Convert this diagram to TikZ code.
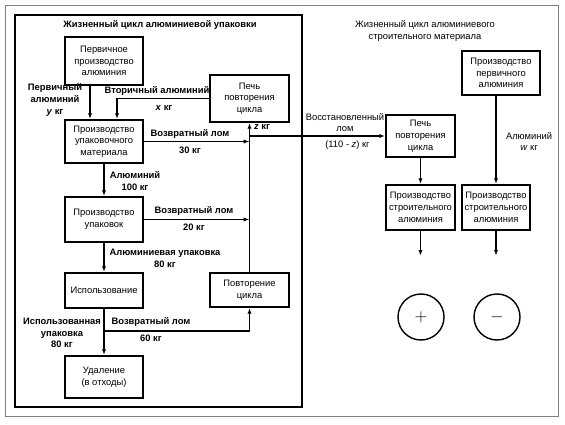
\documentclass[tikz,border=0pt]{standalone}
\usepackage{fontspec}
\setmainfont{Liberation Sans}
\usetikzlibrary{arrows.meta}
\tikzset{
  box/.style n args={2}{draw, line width=1.5pt, align=center, inner sep=1pt,
    minimum width=#1*0.03cm, minimum height=#2*0.03cm},
  lbl/.style={align=center, inner sep=1pt, font=\bfseries},
  txt/.style={align=center, inner sep=1pt},
  flow/.style={line width=1.2pt, -{Latex[length=5pt,width=3.6pt]}},
  sign/.style={circle, draw, line width=1.2pt, minimum size=46*0.03cm, font=\Large},
}
\begin{document}
\fontsize{8}{10}\selectfont
\begin{tikzpicture}[x=0.03cm,y=-0.03cm]

\useasboundingbox (0,0) rectangle (565,425);
\draw[gray, thin] (5,5) rectangle (558,416);
\draw[black, line width=1.8pt] (15,15) rectangle (302,407);

% packaging cycle
\node[lbl] (titleA) at (160,25) {Жизненный цикл алюминиевой упаковки};
\node[box={78}{48}] (prim) at (104,61) {Первичное\\производство\\алюминия};
\node[box={78}{43}] (upmat) at (104,141.5) {Производство\\упаковочного\\материала};
\node[box={78}{45}] (upak) at (104,219.5) {Производство\\упаковок};
\node[box={78}{35}] (use) at (104,290.5) {Использование};
\node[box={78}{42}] (del) at (104,377) {Удаление\\(в отходы)};
\node[box={79}{47}] (furnA) at (249.5,98.5) {Печь\\повторения\\цикла};
\node[box={79}{34}] (rep) at (249.5,290) {Повторение\\цикла};
\coordinate (brU) at (104,331);

% building cycle
\node[txt] (titleB) at (425,31) {Жизненный цикл алюминиевого\\строительного материала};
\node[box={78}{44}] (primB) at (501,73) {Производство\\первичного\\алюминия};
\node[box={69}{42}] (furnB) at (420.5,136) {Печь\\повторения\\цикла};
\node[box={69}{45}] (bldA) at (420.5,207.5) {Производство\\строительного\\алюминия};
\node[box={68}{45}] (bldB) at (496,207.5) {Производство\\строительного\\алюминия};
\node[sign] (plus) at (421,317) {$+$};
\node[sign] (minus) at (497,317) {$-$};

% connectors
\draw[flow] ([xshift=-0.42cm]prim.south) -- ([xshift=-0.42cm]upmat.north);
\draw[flow] (furnA.west) -| ([xshift=0.39cm]upmat.north);
\draw[flow] (upmat.south) -- (upak.north);
\draw[flow] (upak.south) -- (use.north);
\draw[flow] (use.south) -- (del.north);
\draw[flow] (upmat.east) -- (upmat.east -| furnA.south);
\draw[flow] (upak.east) -- (upak.east -| furnA.south);
\draw[flow] (brU) -| (rep.south);
\draw[flow] (rep.north) -- (furnA.south);
\draw[flow] (furnA.south |- furnB.west) -- (furnB.west);
\draw[flow] (furnB.south) -- (bldA.north);
\draw[flow] (primB.south -| bldB.north) -- (bldB.north);
\draw[flow] (bldA.south) -- ++(0,25);
\draw[flow] (bldB.south) -- ++(0,25);

% labels
\node[lbl] (lPrim) at (55,100) {Первичный\\алюминий\\\textit{y} кг};
\node[lbl] (lSec) at (157,91) {Вторичный алюминий};
\node[lbl] (lSecX) at (164,108) {\textit{x} кг};
\node[lbl] (lZ) at (262,127) {\textit{z} кг};
\node[lbl] (lScrA) at (190,134) {Возвратный лом};
\node[lbl] (lScrAw) at (190,150) {30 кг};
\node[lbl] (lAl) at (135,181) {Алюминий\\100 кг};
\node[lbl] (lScrB) at (194,211) {Возвратный лом};
\node[lbl] (lScrBw) at (194,227) {20 кг};
\node[lbl] (lPack) at (165,258.5) {Алюминиевая упаковка\\80 кг};
\node[lbl] (lUsed) at (62,333) {Использованная\\упаковка\\80 кг};
\node[lbl] (lScrC) at (151,322) {Возвратный лом};
\node[lbl] (lScrCw) at (151,338) {60 кг};
\node[txt] (lRec) at (345,122.5) {Восстановленный\\лом};
\node[txt] (lRecw) at (347.5,145) {(110 - \textit{z}) кг};
\node[txt] (lAlw) at (529,141.5) {Алюминий\\\textit{w} кг};

\end{tikzpicture}
\end{document}
